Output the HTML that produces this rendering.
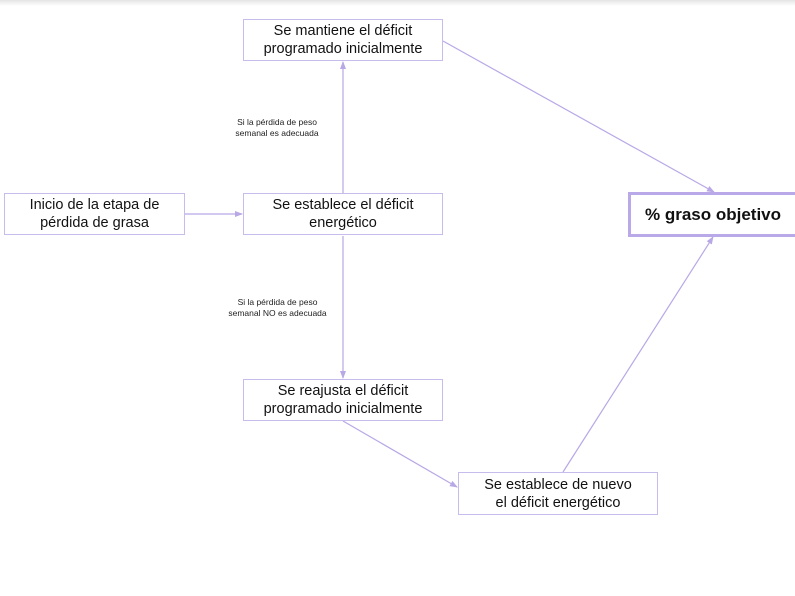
<!DOCTYPE html>
<html><head><meta charset="utf-8"><style>
body{margin:0;width:795px;height:596px;background:#fff;position:relative;overflow:hidden;font-family:"Liberation Sans",sans-serif}
.top{position:absolute;left:0;top:0;width:795px;height:6px;background:linear-gradient(#e4e4e4,#fff)}
.b{position:absolute;box-sizing:border-box;border:1.5px solid #c8bcec;background:#fff;display:flex;align-items:center;justify-content:center;text-align:center;font-size:14.5px;line-height:18px;color:#111}
.l{position:absolute;font-size:8.5px;line-height:11px;text-align:center;color:#222}
</style></head><body>
<div class="top"></div>
<svg width="795" height="596" style="position:absolute;left:0;top:0">
<defs><marker id="a" markerWidth="8" markerHeight="8" refX="7" refY="4" orient="auto" markerUnits="userSpaceOnUse"><path d="M0,1 L8,4 L0,7z" fill="#b8a8e6"/></marker></defs>
<g stroke="#b8a8e6" stroke-width="1.2" fill="none">
<line x1="185" y1="214" x2="242" y2="214" marker-end="url(#a)"/>
<line x1="343" y1="193" x2="343" y2="62" marker-end="url(#a)"/>
<line x1="343" y1="236" x2="343" y2="378" marker-end="url(#a)"/>
<line x1="443" y1="41" x2="714" y2="192" marker-end="url(#a)"/>
<line x1="343" y1="421" x2="457" y2="487" marker-end="url(#a)"/>
<line x1="563" y1="472" x2="713" y2="237" marker-end="url(#a)"/>
</g></svg>
<div class="b" style="left:243px;top:19px;width:200px;height:42px">Se mantiene el déficit<br>programado inicialmente</div>
<div class="b" style="left:4px;top:193px;width:181px;height:42px">Inicio de la etapa de<br>pérdida de grasa</div>
<div class="b" style="left:243px;top:193px;width:200px;height:42px">Se establece el déficit<br>energético</div>
<div class="b" style="left:243px;top:379px;width:200px;height:42px">Se reajusta el déficit<br>programado inicialmente</div>
<div class="b" style="left:458px;top:472px;width:200px;height:43px">Se establece de nuevo<br>el déficit energético</div>
<div class="b" style="left:628px;top:192px;width:175px;height:45px;border:3px solid #b9a9e8;font-weight:bold;font-size:17px;justify-content:flex-start;padding-left:14px">% graso objetivo</div>
<div class="l" style="left:222px;top:117px;width:110px">Si la pérdida de peso<br>semanal es adecuada</div>
<div class="l" style="left:215px;top:297px;width:125px">Si la pérdida de peso<br>semanal NO es adecuada</div>
</body></html>
